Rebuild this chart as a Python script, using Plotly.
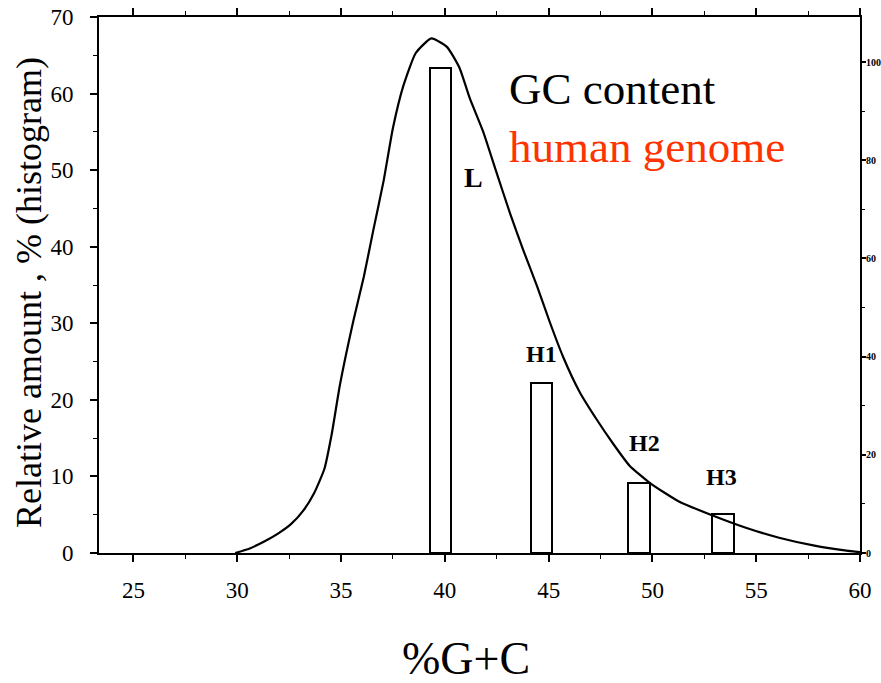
import plotly.graph_objects as go

# ---- data ----
gc_x = [29.9, 30.6, 31.3, 32.0, 32.6, 33.2, 33.7, 34.2, 34.55, 34.95, 35.6, 36.1,
        36.55, 37.05, 37.5, 38.0, 38.6, 39.35, 40.1, 40.7, 41.2, 41.85, 42.5, 43.15,
        43.8, 44.45, 45.05, 45.7, 46.5, 47.3, 48.1, 48.9, 49.9, 51.3, 52.9, 54.5,
        56.1, 57.75, 59.35, 60.0]
gc_curve = [0.0, 0.6, 1.5, 2.6, 3.8, 5.6, 7.8, 11.0, 15.5, 22.0, 30.4, 36.1,
            42.1, 48.6, 55.5, 61.0, 65.3, 67.2, 66.1, 63.4, 59.4, 55.0, 49.6, 44.3,
            39.4, 34.8, 30.2, 25.6, 21.0, 17.5, 14.3, 11.4, 9.1, 6.7, 4.9, 3.3,
            2.0, 1.0, 0.3, 0.1]

band_names = ["L", "H1", "H2", "H3"]
band_centers = [39.78, 44.67, 49.36, 53.4]
band_amounts = [63.4, 22.2, 9.2, 5.1]
label_x = [41.38, 44.68, 49.6, 53.35]
label_y = [49.1, 26.0, 14.4, 9.9]

x_ticks = [25, 30, 35, 40, 45, 50, 55, 60]
y_ticks = [0, 10, 20, 30, 40, 50, 60, 70]
y2_ticks = [0, 20, 40, 60, 80, 100]

SERIF = "Liberation Serif"
W, H = 881, 683
ML, MR, MT, MB = 99, 21, 17, 130
PW, PH = W - ML - MR, H - MT - MB


def px_x(px):
    return (px - ML) / PW


def px_y(py):
    return (H - MB - py) / PH


fig = go.Figure()
fig.add_trace(go.Bar(
    x=band_centers, y=band_amounts, width=1.03,
    marker=dict(color="white", line=dict(color="black", width=2)),
    hoverinfo="skip", showlegend=False))
fig.add_trace(go.Scatter(
    x=gc_x, y=gc_curve, mode="lines",
    line=dict(color="black", width=2.2, shape="spline", smoothing=0.5),
    hoverinfo="skip", showlegend=False))
# helper trace so the right-hand axis is drawn
fig.add_trace(go.Scatter(
    x=gc_x, y=gc_curve, yaxis="y2", mode="lines",
    line=dict(width=0, color="rgba(0,0,0,0)"), hoverinfo="skip", showlegend=False))

for name, lx, ly in zip(band_names, label_x, label_y):
    fig.add_annotation(
        x=lx, y=ly, xref="x", yref="y", text=name, showarrow=False,
        font=dict(family=SERIF, size=28 if name == "L" else 24, color="black",
                  weight="bold"),
        xanchor="center", yanchor="middle")

fig.add_annotation(x=px_x(507), y=px_y(89), xref="paper", yref="paper",
                   text="GC content", showarrow=False, xanchor="left", yanchor="middle",
                   font=dict(family=SERIF, size=45, color="black"))
fig.add_annotation(x=px_x(507), y=px_y(147), xref="paper", yref="paper",
                   text="human genome", showarrow=False, xanchor="left", yanchor="middle",
                   font=dict(family=SERIF, size=45, color="#ff3300"))
fig.add_annotation(x=px_x(466), y=px_y(658), xref="paper", yref="paper",
                   text="%G+C", showarrow=False, xanchor="center", yanchor="middle",
                   font=dict(family=SERIF, size=46, color="black"))
fig.add_annotation(x=px_x(29), y=px_y(293), xref="paper", yref="paper",
                   text="Relative amount , % (histogram)", showarrow=False,
                   textangle=-90, xanchor="center", yanchor="middle",
                   font=dict(family=SERIF, size=36, color="black"))

axis_common = dict(showgrid=False, zeroline=False, showline=True, linecolor="black",
                   linewidth=2, ticks="outside", tickcolor="black", tickwidth=1.5,
                   automargin=False)

fig.update_layout(
    width=W, height=H,
    margin=dict(l=ML, r=MR, t=MT, b=MB, pad=0, autoexpand=False),
    paper_bgcolor="white", plot_bgcolor="white",
    showlegend=False, bargap=0,
    xaxis=dict(range=[23.34, 60], tickmode="array", tickvals=x_ticks,
               ticktext=[str(v) for v in x_ticks], ticklen=7, mirror="ticks",
               minor=dict(tickmode="linear", tick0=25, dtick=2.5, ticks="outside",
                          ticklen=4, tickcolor="black", tickwidth=1.2),
               tickfont=dict(family=SERIF, size=23, color="black"),
               ticklabelstandoff=8, **axis_common),
    yaxis=dict(range=[0, 70], tickmode="array", tickvals=y_ticks,
               ticktext=[str(v) for v in y_ticks], ticklen=7, mirror=True,
               minor=dict(tickmode="linear", tick0=0, dtick=5, ticks="outside",
                          ticklen=4, tickcolor="black", tickwidth=1.2),
               tickfont=dict(family=SERIF, size=23, color="black"),
               ticklabelstandoff=12, **axis_common),
    yaxis2=dict(range=[0, 109.2], overlaying="y", side="right", tickmode="array",
                tickvals=y2_ticks, ticktext=[str(v) for v in y2_ticks], ticklen=4,
                minor=dict(tickmode="linear", tick0=0, dtick=10, ticks="outside",
                           ticklen=3, tickcolor="black", tickwidth=1.2),
                tickfont=dict(family=SERIF, size=10, color="black", weight="bold"),
                ticklabelstandoff=-2, **axis_common),
)

fig.write_html("out.html")
